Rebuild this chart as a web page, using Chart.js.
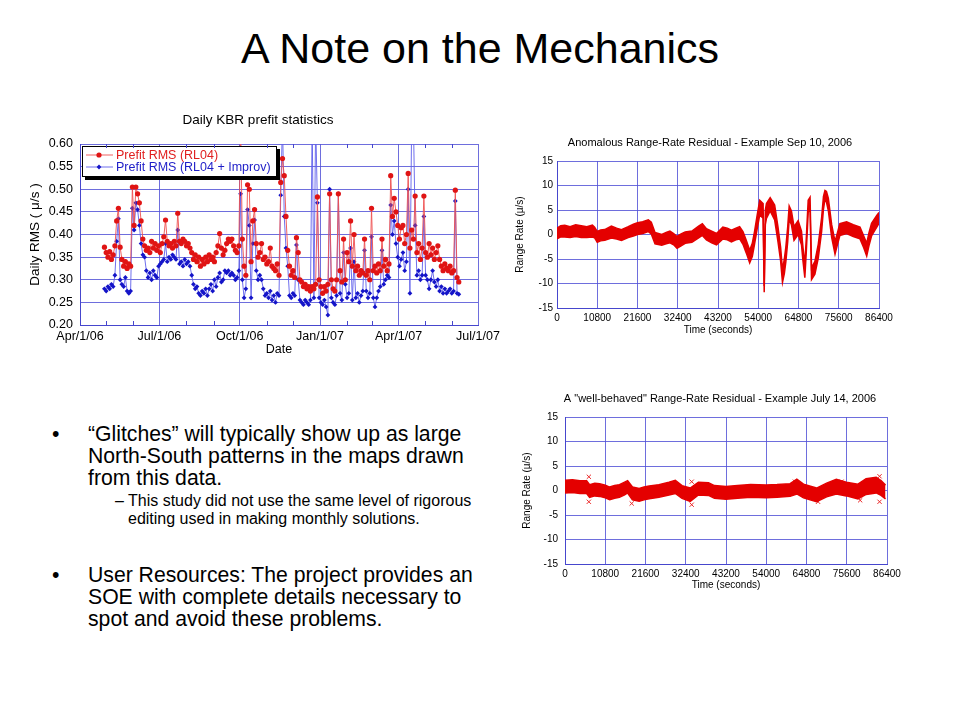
<!DOCTYPE html>
<html lang="en">
<head>
<meta charset="UTF-8">
<title>A Note on the Mechanics</title>
<script src="https://cdn.jsdelivr.net/npm/chart.js"></script>
<style>
    body {
        margin: 0;
        background: #fff;
        font-family: Arial, "Liberation Sans", sans-serif;
        color: #000;
    }

    .slide {
        position: relative;
        width: 960px;
        height: 720px;
        overflow: hidden;
        background: #fff;
    }

    h1 {
        position: absolute;
        left: 0;
        top: 23px;
        width: 960px;
        margin: 0;
        text-align: center;
        font-weight: normal;
        font-size: 43px;
        line-height: 50px;
    }

    canvas {
        position: absolute;
    }

    .bullet {
        position: absolute;
        left: 88px;
        font-size: 21.2px;
        line-height: 22px;
        white-space: nowrap;
    }

    .sub {
        position: absolute;
        left: 128px;
        font-size: 16px;
        line-height: 18px;
        white-space: nowrap;
    }

    .mark {
        position: absolute;
    }
</style>
</head>
<body>
<div class="slide">
    <h1>A Note on the Mechanics</h1>

    <canvas id="kbr" width="504" height="252" style="left:6px; top:108px;"></canvas>
    <canvas id="anom" width="410" height="212" style="left:505px; top:128px;"></canvas>
    <canvas id="well" width="420" height="210" style="left:510px; top:385px;"></canvas>

    <div class="bullet" style="top:423px;"><span class="mark" style="left:-36px;">•</span>“Glitches” will typically show up as large<br>North-South patterns in the maps drawn<br>from this data.</div>
    <div class="sub" style="top:492px;"><span class="mark" style="left:-13px;">–</span>This study did not use the same level of rigorous<br>editing used in making monthly solutions.</div>
    <div class="bullet" style="top:564px;"><span class="mark" style="left:-36px;">•</span>User Resources: The project provides an<br>SOE with complete details necessary to<br>spot and avoid these problems.</div>
</div>

<script>
    // --- Daily KBR prefit statistics: one reading every 2nd day, day 0 = Apr/1/06
    const prefitFirstDay = 28;
    const prefitStep = 2;

    const rmsRL04 = [
        0.372, 0.360, 0.350, 0.362, 0.345, 0.355, 0.375, 0.430, 0.458, 0.372,
        0.345, 0.330, 0.340, 0.325, 0.335, 0.330, 0.505, 0.420, 0.505, 0.490,
        0.470, 0.430, 0.390, 0.375, 0.365, 0.370, 0.360, 0.385, 0.370, 0.380,
        0.365, 0.375, 0.360, 0.380, 0.395, 0.432, 0.385, 0.375, 0.380, 0.370,
        0.385, 0.375, 0.447, 0.385, 0.380, 0.390, 0.385, 0.375, 0.380, 0.370,
        0.360, 0.345, 0.355, 0.340, 0.350, 0.330, 0.345, 0.335, 0.350, 0.340,
        0.355, 0.345, 0.350, 0.340, 0.360, 0.375, 0.402, 0.370, 0.355, 0.365,
        0.380, 0.390, 0.385, 0.390, 0.375, 0.365, 0.360, 0.375, 0.650, 0.390,
        0.330, 0.310, 0.510, 0.500, 0.340, 0.430, 0.455, 0.380, 0.350, 0.360,
        0.380, 0.345, 0.350, 0.335, 0.340, 0.370, 0.330, 0.325, 0.320, 0.335,
        0.310, 0.515, 0.568, 0.530, 0.440, 0.365, 0.330, 0.310, 0.320, 0.305,
        0.393, 0.360, 0.300, 0.295, 0.285, 0.290, 0.280, 0.285, 0.275, 0.285,
        0.280, 0.290, 0.483, 0.300, 0.285, 0.270, 0.285, 0.275, 0.290, 0.490,
        0.300, 0.280, 0.275, 0.300, 0.490, 0.320, 0.295, 0.390, 0.300, 0.360,
        0.340, 0.430, 0.330, 0.400, 0.320, 0.330, 0.310, 0.320, 0.315, 0.390,
        0.310, 0.320, 0.300, 0.458, 0.320, 0.330, 0.315, 0.335, 0.320, 0.390,
        0.330, 0.345, 0.320, 0.335, 0.530, 0.440, 0.480, 0.450, 0.420, 0.390,
        0.415, 0.420, 0.380, 0.400, 0.535, 0.370, 0.410, 0.390, 0.485, 0.360,
        0.380, 0.345, 0.370, 0.485, 0.360, 0.350, 0.380, 0.355, 0.370, 0.345,
        0.360, 0.375, 0.345, 0.330, 0.320, 0.335, 0.325, 0.320, 0.330, 0.315,
        0.320, 0.498, 0.305, 0.295
    ];

    const rmsImprov = [
        0.280, 0.275, 0.285, 0.280, 0.290, 0.285, 0.310, 0.385, 0.435, 0.300,
        0.290, 0.285, 0.305, 0.275, 0.270, 0.275, 0.458, 0.410, 0.470, 0.455,
        0.420, 0.380, 0.355, 0.350, 0.320, 0.305, 0.315, 0.300, 0.320, 0.310,
        0.305, 0.330, 0.335, 0.340, 0.345, 0.380, 0.340, 0.350, 0.345, 0.355,
        0.350, 0.345, 0.410, 0.335, 0.340, 0.330, 0.345, 0.335, 0.340, 0.330,
        0.310, 0.290, 0.280, 0.285, 0.270, 0.265, 0.275, 0.270, 0.280, 0.265,
        0.280, 0.290, 0.275, 0.300, 0.285, 0.305, 0.315, 0.295, 0.300, 0.320,
        0.315, 0.320, 0.310, 0.315, 0.310, 0.300, 0.305, 0.320, 0.490, 0.300,
        0.260, 0.280, 0.455, 0.420, 0.260, 0.380, 0.432, 0.320, 0.300, 0.310,
        0.300, 0.280, 0.265, 0.270, 0.260, 0.275, 0.255, 0.265, 0.250, 0.270,
        0.265, 0.487, 0.650, 0.440, 0.370, 0.330, 0.265, 0.260, 0.270, 0.265,
        0.377, 0.300, 0.255, 0.250, 0.245, 0.255, 0.250, 0.245, 0.255, 0.650,
        0.260, 0.650, 0.470, 0.260, 0.250, 0.245, 0.255, 0.240, 0.222, 0.500,
        0.260, 0.250, 0.245, 0.265, 0.490, 0.270, 0.255, 0.360, 0.290, 0.260,
        0.270, 0.370, 0.255, 0.340, 0.260, 0.270, 0.250, 0.265, 0.275, 0.365,
        0.275, 0.260, 0.270, 0.395, 0.260, 0.240, 0.260, 0.275, 0.285, 0.365,
        0.290, 0.300, 0.310, 0.305, 0.465, 0.400, 0.430, 0.380, 0.350, 0.330,
        0.345, 0.360, 0.320, 0.340, 0.500, 0.270, 0.650, 0.650, 0.420, 0.310,
        0.320, 0.300, 0.310, 0.440, 0.310, 0.300, 0.280, 0.300, 0.320, 0.295,
        0.285, 0.300, 0.275, 0.285, 0.270, 0.280, 0.270, 0.275, 0.280, 0.270,
        0.275, 0.474, 0.270, 0.268
    ];

    const dateTickDays = [0, 91, 183, 275, 365, 456];
    const dateTickLabels = ['Apr/1/06', 'Jul/1/06', 'Oct/1/06', 'Jan/1/07', 'Apr/1/07', 'Jul/1/07'];
    const monthDays = [30, 61, 122, 153, 214, 244, 306, 334, 395, 426];
    const rmsTicks = [0.20, 0.25, 0.30, 0.35, 0.40, 0.45, 0.50, 0.55, 0.60];

    // --- Range-rate residual, Sep 10 2006: top and bottom edge of the noisy band
    const anomTime = [
        0, 1000, 2100, 3500, 5000, 6500, 8000, 9500, 10100, 10800,
        11700, 12800, 14600, 16000, 17300, 19100, 20500, 21600, 23000, 24500,
        25300, 26300, 28100, 29300, 30300, 31300, 32200, 33300, 34400, 36200,
        38000, 39000, 40100, 41500, 42800, 44500, 45700, 46800, 48000, 49000,
        49900, 50800, 51700, 52400, 53000, 53700, 54400, 55300, 55600, 55900,
        56200, 57200, 58400, 59300, 60000, 60500, 61000, 61400, 61900, 62300,
        62900, 63600, 64700, 65600, 66000, 66500, 66900, 67400, 67900, 68300,
        69200, 70100, 71000, 71500, 71900, 72300, 72800, 73700, 74600, 75200,
        75900, 77700, 79500, 81300, 82300, 83100, 83700, 84400, 85800, 86400
    ];
    const anomHigh = [
        1.3, 1.8, 1.9, 1.6, 2.0, 1.8, 1.6, 1.9, 1.5, 0.6,
        0.9, 1.0, 1.7, 1.3, 1.0, 1.6, 2.1, 2.4, 2.6, 3.0,
        2.5, 0.4, 0.0, 0.4, 0.7, 0.2, -0.4, 0.1, 0.5, 0.7,
        1.7, 2.2, 1.2, 0.7, 0.2, 1.5, 1.3, 0.9, 1.3, 1.6,
        0.6, -1.2, -3.2, -1.8, 0.6, 3.9, 7.0, 6.3, -10.5, 5.0,
        6.3, 7.5, 6.0, 1.5, -2.6, -7.2, -5.0, -2.6, 1.5, 5.8,
        4.8, 1.6, 2.8, 0.7, -2.6, -6.2, -0.6, 7.0, 7.6, -6.8,
        -5.5, -2.0, 3.4, 7.8, 9.0, 8.8, 7.4, 2.0, -1.4, 0.2,
        2.2, 2.6, 2.0, 1.5, -0.3, -1.8, 0.3, 2.3, 3.9, 4.5
    ];
    const anomLow = [
        -0.9, -0.5, -0.5, -0.6, -0.4, -0.6, -0.6, -0.5, -0.7, -1.6,
        -1.3, -1.2, -0.7, -0.9, -1.2, -0.6, -0.3, 0.0, 0.2, 0.6,
        0.1, -1.9, -2.2, -1.9, -1.7, -2.1, -2.8, -2.3, -1.8, -1.6,
        -0.7, -0.2, -1.1, -1.7, -2.1, -0.9, -1.1, -1.5, -1.1, -0.9,
        -2.0, -3.8, -5.8, -4.5, -2.0, 1.1, 4.0, 3.3, -11.8, 2.0,
        3.3, 4.8, 3.0, -1.5, -5.4, -9.8, -8.0, -5.6, -1.5, 3.1,
        2.0, -1.2, 0.0, -2.1, -5.4, -8.8, -3.4, 4.5, 5.2, -9.2,
        -8.1, -4.8, 0.6, 5.2, 7.2, 6.6, 4.9, -0.6, -4.0, -2.2,
        -0.2, 0.2, -0.4, -0.9, -2.7, -4.4, -2.3, -0.3, 1.5, 2.3
    ];

    // --- "well-behaved" residual, July 14 2006: band edges plus stray points
    const wellTime = [
        0, 2000, 4000, 5800, 6600, 8000, 9300, 10800, 12000, 13300,
        14600, 16000, 16800, 18100, 19900, 21200, 22600, 25200, 27900, 29600,
        31400, 33600, 35800, 38500, 40100, 43200, 46300, 49800, 54000, 56900,
        60400, 62200, 64000, 67500, 70200, 72800, 75500, 78600, 80800, 83500,
        84800, 86000
    ];
    const wellHigh = [
        2.1, 2.2, 2.0, 2.0, 1.2, 1.5, 1.4, 1.1, 0.7, 1.0,
        1.2, 1.7, 2.0, 0.7, 0.4, 0.7, 0.9, 1.2, 1.7, 2.1,
        1.0, 0.5, 1.7, 1.6, 1.0, 0.8, 1.0, 1.2, 1.1, 1.2,
        1.4, 2.3, 1.3, 0.5, 1.5, 2.3, 1.7, 1.3, 2.4, 2.7,
        2.0, 1.1
    ];
    const wellLow = [
        -0.5, -0.4, -0.6, -0.6, -1.4, -1.1, -1.2, -1.5, -1.9, -1.6,
        -1.4, -0.9, -0.5, -1.9, -2.2, -1.9, -1.7, -1.4, -0.9, -0.6,
        -1.6, -2.2, -0.9, -1.0, -1.6, -1.8, -1.6, -1.4, -1.5, -1.4,
        -1.2, -0.7, -1.5, -2.3, -1.3, -0.7, -1.1, -1.7, -0.8, -0.5,
        -1.0, -1.7
    ];
    const wellOutTime = [6400, 6400, 17900, 34000, 34000, 61700, 67900, 74200, 79200, 81300, 84400, 84400];
    const wellOutRate = [2.8, -2.3, -2.65, 1.8, -2.9, 1.8, -2.3, 1.8, -2.0, 2.1, 2.9, -2.3];

    const secTicks = [0, 10800, 21600, 32400, 43200, 54000, 64800, 75600, 86400];
    const rateTicks = [-15, -10, -5, 0, 5, 10, 15];

    Chart.defaults.font.family = 'Arial, "Liberation Sans", Helvetica, sans-serif';
    Chart.defaults.color = '#000';

    const gridBlue = 'rgba(85, 85, 215, 0.85)';
    const frameBlue = 'rgb(70, 70, 205)';
    const bandRed = 'rgb(228, 0, 0)';

    function useTicks(values) {
        return axis => { axis.ticks = values.map(v => ({ value: v })); };
    }

    function points(xs, ys) {
        return ys.map((y, i) => ({ x: xs[i], y: y }));
    }

    // empty axis on the right, only there to hold the right margin
    function spacer(width) {
        return {
            type: 'linear',
            position: 'right',
            axis: 'y',
            grid: { display: false },
            ticks: { display: false },
            border: { display: false },
            afterFit: s => { s.width = width; }
        };
    }

    // boxed legend with drop shadow, inside the top-left of the plot
    const legendBox = {
        id: 'legendBox',
        afterDatasetsDraw(chart) {
            const { ctx, chartArea } = chart;
            const x = chartArea.left + 2, y = chartArea.top + 2, w = 194, h = 30;
            ctx.save();
            ctx.fillStyle = '#000';
            ctx.fillRect(x + 3, y + 3, w + 1, h + 1);
            ctx.fillStyle = '#fff';
            ctx.fillRect(x, y, w, h);
            ctx.strokeStyle = '#000';
            ctx.lineWidth = 1;
            ctx.strokeRect(x + 0.5, y + 0.5, w, h);
            ctx.font = '12.5px Arial, "Liberation Sans", sans-serif';
            ctx.textBaseline = 'middle';
            chart.data.datasets.forEach((ds, i) => {
                const ly = y + 9 + i * 12;
                ctx.strokeStyle = ds.borderColor;
                ctx.beginPath();
                ctx.moveTo(x + 4, ly);
                ctx.lineTo(x + 31, ly);
                ctx.stroke();
                ctx.fillStyle = ds.pointBackgroundColor;
                ctx.beginPath();
                if (ds.pointStyle === 'circle') {
                    ctx.arc(x + 17, ly, ds.pointRadius, 0, Math.PI * 2);
                } else {
                    const r = ds.pointRadius;
                    ctx.moveTo(x + 17, ly - r);
                    ctx.lineTo(x + 17 + r, ly);
                    ctx.lineTo(x + 17, ly + r);
                    ctx.lineTo(x + 17 - r, ly);
                    ctx.closePath();
                }
                ctx.fill();
                ctx.fillStyle = ds.legendText;
                ctx.fillText(ds.label, x + 34, ly + 0.5);
            });
            ctx.restore();
        }
    };

    // small month ticks along the top and bottom of the frame
    const monthTicks = {
        id: 'monthTicks',
        afterDraw(chart) {
            const { ctx, chartArea, scales } = chart;
            ctx.save();
            ctx.strokeStyle = frameBlue;
            ctx.lineWidth = 1;
            monthDays.forEach(d => {
                const px = Math.round(scales.x.getPixelForValue(d)) + 0.5;
                ctx.beginPath();
                ctx.moveTo(px, chartArea.bottom);
                ctx.lineTo(px, chartArea.bottom - 4);
                ctx.moveTo(px, chartArea.top);
                ctx.lineTo(px, chartArea.top + 4);
                ctx.stroke();
            });
            ctx.restore();
        }
    };

    new Chart(document.getElementById('kbr'), {
        type: 'line',
        data: {
            datasets: [{
                label: 'Prefit RMS (RL04)',
                data: rmsRL04.map((v, i) => ({ x: prefitFirstDay + prefitStep * i, y: v })),
                borderColor: 'rgba(238, 80, 80, 0.9)',
                borderWidth: 1,
                pointStyle: 'circle',
                pointRadius: 2.6,
                pointBorderWidth: 0,
                pointBackgroundColor: '#e01414',
                pointBorderColor: '#e01414',
                legendText: '#e01e1e',
                clip: 0
            }, {
                label: 'Prefit RMS (RL04 + Improv)',
                data: rmsImprov.map((v, i) => ({ x: prefitFirstDay + prefitStep * i, y: v })),
                borderColor: 'rgba(95, 95, 235, 0.9)',
                borderWidth: 1,
                pointStyle: 'rectRot',
                pointRadius: 2.4,
                pointBorderWidth: 0,
                pointBackgroundColor: '#1414c8',
                pointBorderColor: '#1414c8',
                legendText: '#1e1ec8',
                clip: 0
            }]
        },
        options: {
            responsive: false,
            animation: false,
            plugins: {
                legend: { display: false },
                tooltip: { enabled: false },
                title: {
                    display: true,
                    text: 'Daily KBR prefit statistics',
                    font: { size: 13.5, weight: 'normal' },
                    padding: { top: 3.8, bottom: 16 }
                }
            },
            scales: {
                x: {
                    type: 'linear',
                    min: 0,
                    max: 456,
                    afterBuildTicks: useTicks(dateTickDays),
                    afterFit: s => { s.height = 35; },
                    ticks: {
                        callback: v => dateTickLabels[dateTickDays.indexOf(v)],
                        padding: 4,
                        maxRotation: 0,
                        autoSkip: false,
                        font: { size: 12.5 }
                    },
                    grid: { color: gridBlue, drawTicks: false },
                    border: { color: frameBlue },
                    title: { display: true, text: 'Date', font: { size: 12.5 }, padding: { top: 0, bottom: 3 } }
                },
                y: {
                    min: 0.2,
                    max: 0.6,
                    afterBuildTicks: useTicks(rmsTicks),
                    afterFit: s => { s.width = 74; },
                    ticks: { callback: v => v.toFixed(2), padding: 7, font: { size: 12.5 } },
                    grid: { color: gridBlue, drawTicks: false },
                    border: { color: frameBlue },
                    title: { display: true, text: 'Daily RMS ( μ/s )', font: { size: 13.5 }, padding: { top: 21, bottom: 0 } }
                },
                pad: spacer(32)
            }
        },
        plugins: [legendBox, monthTicks]
    });

    function rateChart(id, cfg) {
        const datasets = [{
            data: points(cfg.time, cfg.high),
            borderColor: bandRed,
            backgroundColor: bandRed,
            borderWidth: 1.5,
            pointRadius: 0,
            fill: '+1',
            clip: 0
        }, {
            data: points(cfg.time, cfg.low),
            borderColor: bandRed,
            borderWidth: 1.5,
            pointRadius: 0,
            fill: false,
            clip: 0
        }];
        if (cfg.outTime) {
            datasets.push({
                data: points(cfg.outTime, cfg.outRate),
                showLine: false,
                pointStyle: 'crossRot',
                pointRadius: 3,
                pointBorderWidth: 1,
                pointBorderColor: 'rgb(235, 40, 40)',
                clip: 0
            });
        }
        return new Chart(document.getElementById(id), {
            type: 'line',
            data: { datasets: datasets },
            options: {
                responsive: false,
                animation: false,
                plugins: {
                    legend: { display: false },
                    tooltip: { enabled: false },
                    filler: { propagate: false },
                    title: {
                        display: true,
                        text: cfg.title,
                        font: { size: 11, weight: 'normal' },
                        padding: { top: cfg.titleTop, bottom: cfg.titleBottom }
                    }
                },
                scales: {
                    x: {
                        type: 'linear',
                        min: 0,
                        max: 86400,
                        afterBuildTicks: useTicks(secTicks),
                        afterFit: s => { s.height = cfg.xHeight; },
                        ticks: { callback: v => String(v), padding: 4, maxRotation: 0, autoSkip: false, font: { size: 10 } },
                        grid: { color: gridBlue, drawTicks: false },
                        border: { color: frameBlue },
                        title: { display: true, text: 'Time (seconds)', font: { size: 10 }, padding: { top: 0, bottom: 4 } }
                    },
                    y: {
                        min: -15,
                        max: 15,
                        afterBuildTicks: useTicks(rateTicks),
                        afterFit: s => { s.width = cfg.yWidth; },
                        ticks: { callback: v => String(v), padding: cfg.yPad, font: { size: 10 } },
                        grid: { color: gridBlue, drawTicks: false },
                        border: { color: frameBlue },
                        title: { display: true, text: 'Range Rate (μ/s)', font: { size: 10 }, padding: { top: cfg.yTitle, bottom: 0 } }
                    },
                    pad: spacer(cfg.padRight)
                }
            }
        });
    }

    rateChart('anom', {
        title: 'Anomalous Range-Rate Residual - Example Sep 10, 2006',
        time: anomTime, high: anomHigh, low: anomLow,
        padRight: 36, titleTop: 8.4, titleBottom: 11.4,
        xHeight: 32, yWidth: 52, yPad: 4, yTitle: 9
    });

    rateChart('well', {
        title: 'A "well-behaved" Range-Rate Residual - Example July 14, 2006',
        time: wellTime, high: wellHigh, low: wellLow,
        outTime: wellOutTime, outRate: wellOutRate,
        padRight: 43, titleTop: 7.4, titleBottom: 11.4,
        xHeight: 31, yWidth: 55, yPad: 7, yTitle: 11
    });
</script>
</body>
</html>
